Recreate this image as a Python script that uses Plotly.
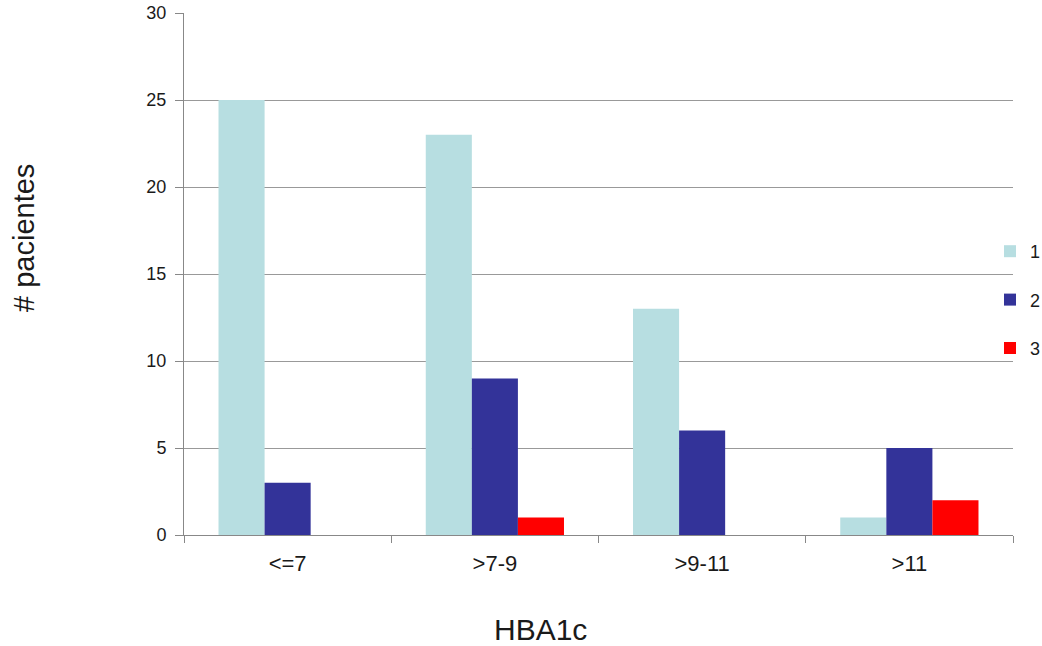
import plotly.graph_objects as go

categories = ["<=7", ">7-9", ">9-11", ">11"]
series_names = ["1", "2", "3"]
values_1 = [25, 23, 13, 1]
values_2 = [3, 9, 6, 5]
values_3 = [0, 1, 0, 2]
colors = ["#B7DEE1", "#333399", "#FF0000"]
x_title = "HBA1c"
y_title = "# pacientes"

FONT = "Liberation Sans, Arial, sans-serif"
TXT = "#1a1a1a"

fig = go.Figure()
for i, (name, vals) in enumerate(zip(series_names, [values_1, values_2, values_3])):
    fig.add_trace(go.Bar(
        x=categories, y=vals, name=name,
        marker=dict(color=colors[i], line=dict(width=0)),
        legendgroup=name,
    ))

fig.update_layout(
    width=1042, height=646,
    margin=dict(l=184, r=29, t=13, b=111, autoexpand=False),
    paper_bgcolor="white", plot_bgcolor="white",
    barmode="group", bargap=0.333, bargroupgap=0,
    font=dict(family=FONT, color=TXT, size=18),
    showlegend=True,
    legend=dict(
        xref="container", yref="container",
        x=990 / 1042, xanchor="left", y=1 - 300 / 646, yanchor="middle",
        font=dict(size=18, color=TXT),
        traceorder="grouped", tracegroupgap=22,
        itemwidth=30, bgcolor="rgba(0,0,0,0)",
    ),
    xaxis=dict(
        automargin=False,
        showline=True, linecolor="#888888", linewidth=1,
        ticks="outside", ticklen=7, tickcolor="#888888",
        tickson="boundaries", showgrid=False,
        tickfont=dict(size=22, color=TXT),
        ticklabelstandoff=9,
    ),
    yaxis=dict(
        automargin=False,
        range=[0, 30], dtick=5,
        showline=True, linecolor="#888888", linewidth=1,
        ticks="outside", ticklen=8, tickcolor="#888888",
        showgrid=True, gridcolor="#999999", gridwidth=1,
        zeroline=False,
        tickfont=dict(size=18, color=TXT),
        ticklabelstandoff=5,
    ),
    annotations=[
        dict(text=x_title, xref="paper", yref="paper",
             x=(540 - 184) / 829, y=(535 - 629) / 522,
             xanchor="center", yanchor="middle", showarrow=False,
             font=dict(size=30, color=TXT)),
        dict(text=y_title, xref="paper", yref="paper",
             x=(24 - 184) / 829, y=(535 - 238) / 522, textangle=-90,
             xanchor="center", yanchor="middle", showarrow=False,
             font=dict(size=29, color=TXT)),
    ],
)

fig.write_html("out.html", config={"displayModeBar": False},
               post_script="document.body.style.margin='0';")
